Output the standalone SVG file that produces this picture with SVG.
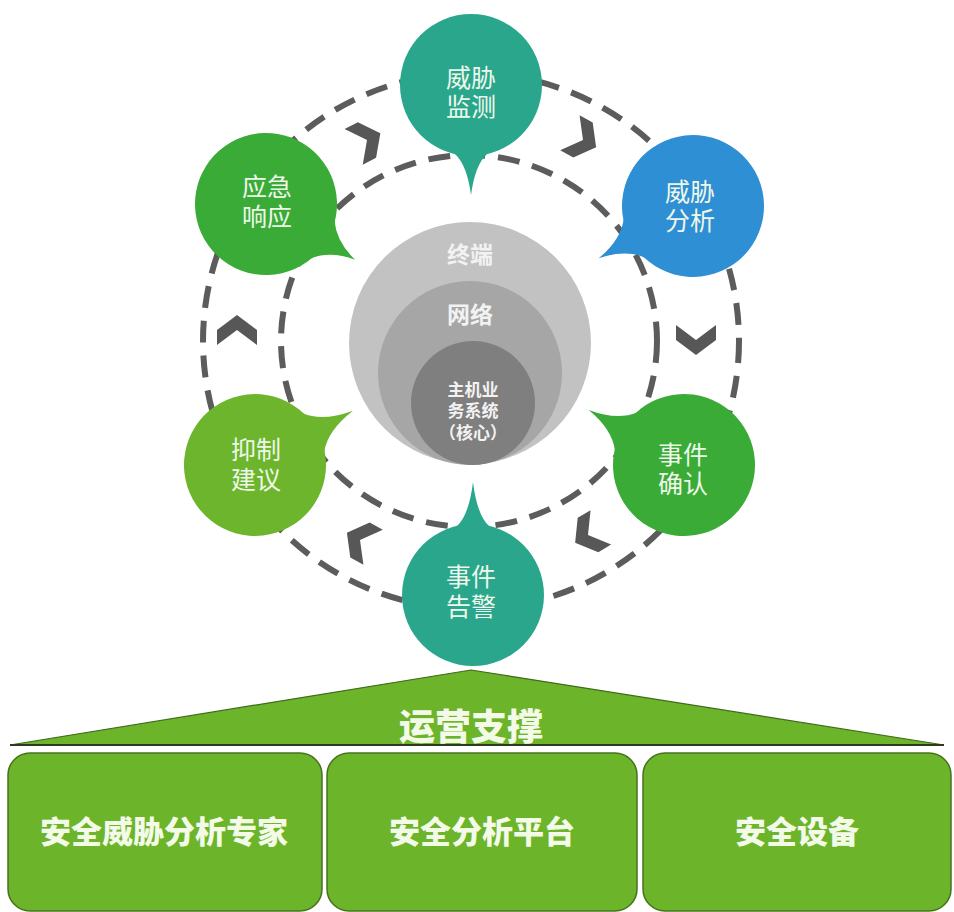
<svg xmlns="http://www.w3.org/2000/svg" width="954" height="912" viewBox="0 0 954 912">
  <defs>
    <style>
      .ring { fill: none; stroke: #5c5c5c; stroke-width: 6; stroke-dasharray: 22 13; }
      .chev { fill: #575757; }
      .lbl { font-family: "Noto Sans CJK SC", "Noto Sans", sans-serif; font-size: 25px; fill: #eef8ea; text-anchor: middle; }
      .core { font-family: "Noto Sans CJK SC", "Noto Sans", sans-serif; fill: #f2f2f2; text-anchor: middle; font-weight: 700; }
      .box { fill: #6cb42a; stroke: #46721e; stroke-width: 1.5; }
      .btxt { font-family: "Noto Sans CJK SC", "Noto Sans", sans-serif; font-size: 31px; font-weight: 900; fill: #f4fae8; text-anchor: middle; }
      .teal { fill: #2aa68d; }
      .blue { fill: #2e8fd5; }
      .green { fill: #3aab36; }
      .lime { fill: #6cb52c; }
    </style>
    <polygon id="chevron" points="-15,-20 0,-20 15,0 0,20 -15,20 0,0"/>
  </defs>

  <rect width="954" height="912" fill="#ffffff"/>

  <g id="connectors">
    <circle class="ring" cx="471" cy="341" r="268"/>
    <ellipse class="ring" cx="469" cy="341" rx="188" ry="186"/>
    <use href="#chevron" class="chev" transform="translate(367,140) rotate(-27)"/>
    <use href="#chevron" class="chev" transform="translate(583,140) rotate(29)"/>
    <use href="#chevron" class="chev" transform="translate(696,340) rotate(90)"/>
    <use href="#chevron" class="chev" transform="translate(588,535) rotate(149)"/>
    <use href="#chevron" class="chev" transform="translate(360,540) rotate(209)"/>
    <use href="#chevron" class="chev" transform="translate(237,330) rotate(270)"/>
  </g>

  <g id="core">
    <circle cx="470" cy="343" r="121" fill="#c2c2c2"/>
    <circle cx="470" cy="373" r="92" fill="#a6a6a6"/>
    <circle cx="473" cy="403" r="62" fill="#7f7f7f"/>
    <text class="core" x="470" y="263" font-size="23">终端</text>
    <text class="core" x="470" y="323" font-size="23">网络</text>
    <text class="core" font-size="17"><tspan x="473" y="396">主机业</tspan><tspan x="473" y="417">务系统</tspan><tspan x="473" y="439">（核心）</tspan></text>
  </g>

  <g id="node-monitor">
    <g class="teal" transform="translate(471,85) rotate(90)">
      <circle r="71"/>
      <path d="M69,-16 Q80,-4 110,0 Q80,4 69,16 Z"/>
    </g>
    <text class="lbl"><tspan x="471" y="87">威胁</tspan><tspan x="471" y="116">监测</tspan></text>
  </g>

  <g id="node-analysis">
    <g class="blue" transform="translate(693,206) rotate(151)">
      <circle r="71"/>
      <path d="M67,-22 Q80,-5 108,0 Q80,5 67,22 Z"/>
    </g>
    <text class="lbl"><tspan x="690" y="201">威胁</tspan><tspan x="690" y="230">分析</tspan></text>
  </g>

  <g id="node-confirm">
    <g class="green" transform="translate(684,465) rotate(210)">
      <circle r="71"/>
      <path d="M67,-22 Q80,-5 110,0 Q80,5 67,22 Z"/>
    </g>
    <text class="lbl"><tspan x="683" y="464">事件</tspan><tspan x="683" y="493">确认</tspan></text>
  </g>

  <g id="node-alarm">
    <g class="teal" transform="translate(473,595) rotate(-90)">
      <circle r="71"/>
      <path d="M69,-16 Q80,-4 113,0 Q80,4 69,16 Z"/>
    </g>
    <text class="lbl"><tspan x="471" y="586">事件</tspan><tspan x="471" y="616">告警</tspan></text>
  </g>

  <g id="node-suppress">
    <g class="lime" transform="translate(255,465) rotate(-29)">
      <circle r="71"/>
      <path d="M67,-22 Q80,-5 112,0 Q80,5 67,22 Z"/>
    </g>
    <text class="lbl"><tspan x="256" y="459">抑制</tspan><tspan x="256" y="489">建议</tspan></text>
  </g>

  <g id="node-response">
    <g class="green" transform="translate(266,204) rotate(32)">
      <circle r="71"/>
      <path d="M67,-22 Q80,-5 105,0 Q80,5 67,22 Z"/>
    </g>
    <text class="lbl"><tspan x="267" y="196">应急</tspan><tspan x="267" y="226">响应</tspan></text>
  </g>

  <g id="support-roof">
    <polygon points="10,745 471,670 944,745" fill="#6cb42a" stroke="#3f6a1c" stroke-width="1.2"/>
    <line x1="10" y1="745" x2="944" y2="745" stroke="#2e3a22" stroke-width="2"/>
    <text x="471" y="740" font-family="Noto Sans CJK SC, Noto Sans, sans-serif" font-size="36" font-weight="900" fill="#f4fae8" text-anchor="middle">运营支撑</text>
  </g>

  <g id="box-expert">
    <rect class="box" x="8" y="753" width="314" height="158" rx="22"/>
    <text class="btxt" x="164" y="843">安全威胁分析专家</text>
  </g>
  <g id="box-platform">
    <rect class="box" x="327" y="753" width="310" height="158" rx="22"/>
    <text class="btxt" x="482" y="843">安全分析平台</text>
  </g>
  <g id="box-device">
    <rect class="box" x="643" y="753" width="308" height="158" rx="22"/>
    <text class="btxt" x="797" y="843">安全设备</text>
  </g>
</svg>
